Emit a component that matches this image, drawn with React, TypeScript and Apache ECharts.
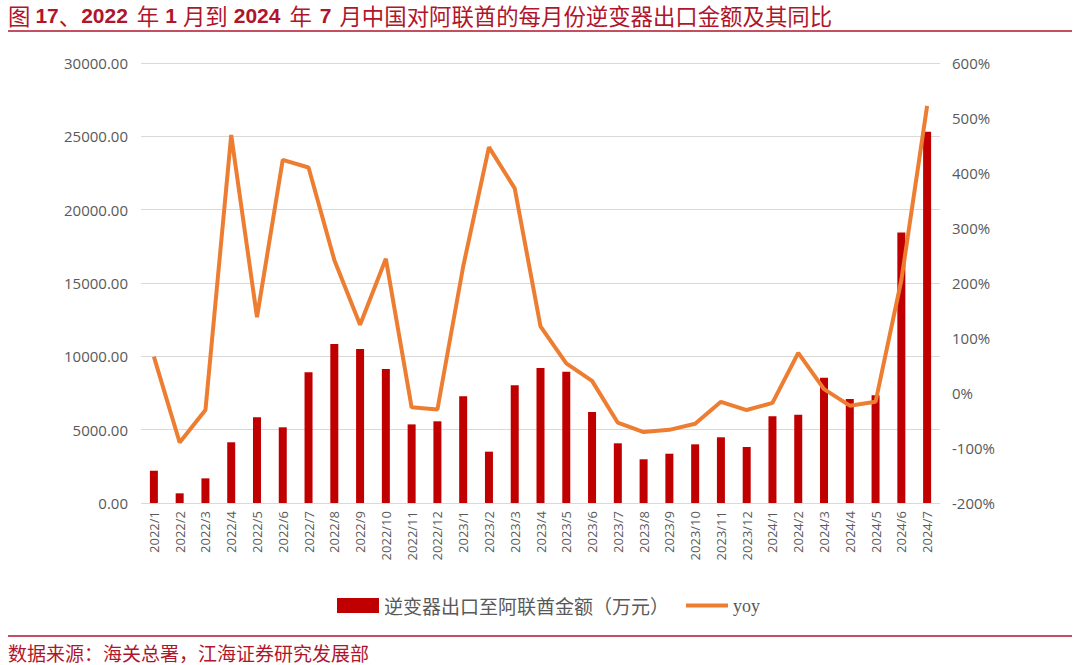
import React, { useEffect, useRef } from "react";
import * as echarts from "echarts";

const categories = [
  "2022/1","2022/2","2022/3","2022/4","2022/5","2022/6","2022/7","2022/8","2022/9","2022/10","2022/11","2022/12",
  "2023/1","2023/2","2023/3","2023/4","2023/5","2023/6","2023/7","2023/8","2023/9","2023/10","2023/11","2023/12",
  "2024/1","2024/2","2024/3","2024/4","2024/5","2024/6","2024/7",
];
const amountValues = [
  2200, 660, 1680, 4140, 5840, 5160, 8910, 10840, 10500, 9130, 5360, 5570,
  7270, 3500, 8020, 9200, 8950, 6200, 4070, 2980, 3360, 4000, 4480, 3820,
  5910, 6020, 8540, 7090, 7340, 18450, 25310,
];
const yoyValues = [
  66, -90, -31, 469, 138, 424, 410, 242, 124, 244, -26, -30,
  230, 447, 372, 121, 54, 22, -54, -71, -67, -56, -16, -31,
  -18, 73, 7, -23, -16, 205, 522,
];
const amountName = "逆变器出口至阿联酋金额（万元）";
const yoyName = "yoy";
const titleParts: [string, string][] = [
  ["cn", "图"], ["s5", " "], ["num", "17"], ["cn", "、"], ["num", "2022"], ["s9", " "],
  ["cn", "年"], ["s6", " "], ["num", "1"], ["s6", " "], ["cn", "月到"], ["s6", " "],
  ["num", "2024"], ["s9", " "], ["cn", "年"], ["s8", " "], ["num", "7"], ["s8", " "],
  ["cn", "月中国对阿联酋的每月份逆变器出口金额及其同比"],
];
const sourceText = "数据来源：海关总署，江海证券研究发展部";

export default function App() {
  const ref = useRef<HTMLDivElement>(null);
  useEffect(() => {
    document.body.style.margin = "0";
    const chart = echarts.init(ref.current!, null, { renderer: "svg" });
    const axisLabelColor = "#595959";
    const titleColor = "#B0152B";
    const titleRich = titleParts.map(([k, t]) => `{${k}|${t}}`).join("");
    const sp = (w: number) => ({ width: w, fontSize: 21, fontFamily: "'Liberation Sans', sans-serif" });
    chart.setOption({
      animation: false,
      backgroundColor: "#ffffff",
      textStyle: { fontFamily: "'Open Sans', 'Noto Sans CJK SC', sans-serif" },
      grid: { left: 141, right: 140, top: 63, bottom: 162 },
      legend: {
        left: 332,
        top: 591,
        itemWidth: 42,
        itemHeight: 15,
        itemGap: 17,
        textStyle: { fontSize: 19, color: "#595959", fontFamily: "'Noto Sans CJK SC', serif" },
        data: [
          { name: amountName, icon: "rect" },
          {
            name: yoyName,
            icon: "path://M0,0 L48,0 L48,4.5 L0,4.5 Z",
            itemStyle: { color: "#ED7D31" },
            textStyle: { fontSize: 18, color: "#595959", fontFamily: "'Liberation Serif', serif" },
          },
        ],
      },
      xAxis: {
        type: "category",
        data: categories,
        axisLine: { show: false },
        axisTick: { show: false },
        axisLabel: { rotate: 90, fontSize: 13, color: axisLabelColor, margin: 8, interval: 0 },
      },
      yAxis: [
        {
          type: "value",
          min: 0,
          max: 30000,
          interval: 5000,
          axisLine: { show: false },
          axisTick: { show: false },
          splitLine: { lineStyle: { color: "#d9d9d9", width: 1 } },
          axisLabel: {
            fontSize: 15,
            color: axisLabelColor,
            margin: 13,
            formatter: (v: number) => v.toFixed(2),
          },
        },
        {
          type: "value",
          min: -200,
          max: 600,
          interval: 100,
          axisLine: { show: false },
          axisTick: { show: false },
          splitLine: { show: false },
          axisLabel: {
            fontSize: 15,
            color: axisLabelColor,
            margin: 12,
            formatter: (v: number) => v + "%",
          },
        },
      ],
      series: [
        {
          name: amountName,
          type: "bar",
          data: amountValues,
          barWidth: 8,
          itemStyle: { color: "#C00000" },
          yAxisIndex: 0,
        },
        {
          name: yoyName,
          type: "line",
          data: yoyValues,
          yAxisIndex: 1,
          symbol: "none",
          lineStyle: { color: "#ED7D31", width: 4 },
          itemStyle: { color: "#ED7D31" },
        },
      ],
      graphic: [
        {
          type: "text",
          left: 8,
          top: 4,
          style: {
            text: titleRich,
            fill: titleColor,
            rich: {
              cn: {
                fontSize: 22.4,
                fontWeight: "normal",
                fill: titleColor,
                fontFamily: "'Noto Sans CJK SC', sans-serif",
              },
              num: {
                fontSize: 21,
                fontWeight: "bold",
                fill: titleColor,
                fontFamily: "'Liberation Sans', Arial, sans-serif",
              },
              s5: sp(5),
              s6: sp(6),
              s8: sp(8),
              s9: sp(9),
            },
          },
        },
        {
          type: "line",
          shape: { x1: 8, y1: 31, x2: 1072, y2: 31 },
          style: { stroke: titleColor, lineWidth: 1.5 },
        },
        {
          type: "line",
          shape: { x1: 8, y1: 636, x2: 1072, y2: 636 },
          style: { stroke: titleColor, lineWidth: 1.5 },
        },
        {
          type: "text",
          left: 8,
          top: 643,
          style: {
            text: sourceText,
            fill: titleColor,
            fontSize: 19,
            fontFamily: "'Noto Sans CJK SC', serif",
          },
        },
      ],
    });
    return () => chart.dispose();
  }, []);
  return <div ref={ref} style={{ width: 1080, height: 665 }} />;
}
